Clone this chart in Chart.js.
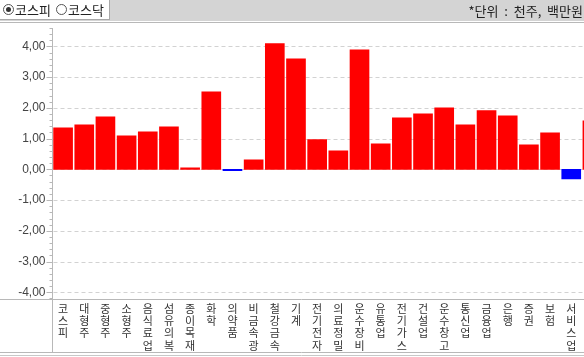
<!DOCTYPE html>
<html><head><meta charset="utf-8">
<script src="https://cdn.jsdelivr.net/npm/chart.js@4/dist/chart.umd.min.js"></script>
<style>
html,body{margin:0;padding:0;width:584px;height:357px;overflow:hidden;background:#fff;}
#top{position:absolute;left:0;top:0;width:584px;height:21px;background:#d4d4d4;}
#radio{position:absolute;left:0;top:0;width:109px;height:19px;background:#fff;border-right:1px solid #a8a8a8;border-bottom:1px solid #a8a8a8;font:13px "Noto Sans CJK KR";color:#222;}
.rb{position:absolute;top:4px;width:11px;height:11px;border:1px solid #555;border-radius:50%;box-sizing:border-box;background:#fff;}
.rb.on::after{content:"";position:absolute;left:2px;top:2px;width:5px;height:5px;border-radius:50%;background:#333;}
.rt{position:absolute;top:1px;line-height:17px;}
#unit{position:absolute;right:1px;top:2px;font:13px "Noto Sans CJK KR";color:#222;line-height:17px;white-space:pre;}
#sep{position:absolute;left:0;top:22px;width:584px;height:1px;background:#b8b8b8;}
#wrap{position:absolute;left:0;top:0;width:603px;height:357px;}
</style></head>
<body>
<div id="wrap"><canvas id="c" width="603" height="357"></canvas></div>
<div id="top">
  <div id="radio">
    <div class="rb on" style="left:3px"></div><div class="rt" style="left:15px">코스피</div>
    <div class="rb" style="left:56px"></div><div class="rt" style="left:68px">코스닥</div>
  </div>
  <div id="unit">*단위  :  천주,  백만원</div>
</div>
<div id="sep"></div>
<script>
const categories = ['코스피','대형주','중형주','소형주','음식료업','섬유의복','종이목재','화학','의약품','비금속광','철강금속','기계','전기전자','의료정밀','운수장비','유통업','전기가스','건설업','운수창고','통신업','금융업','은행','증권','보험','서비스업','제조업'];
const values = [1.35,1.45,1.71,1.09,1.22,1.38,0.05,2.52,-0.04,0.31,4.09,3.60,0.97,0.60,3.89,0.83,1.68,1.81,2.00,1.45,1.91,1.74,0.80,1.19,-0.31,1.58];
const yMin = -4.2, yMax = 4.6;
const yTickValues = [-4,-3,-2,-1,0,1,2,3,4];

const extras = {
  id:'extras',
  beforeDatasetsDraw(chart){
    const ctx = chart.ctx, y = chart.scales.y, a = chart.chartArea;
    ctx.save();
    ctx.strokeStyle = '#d2d2d2'; ctx.lineWidth = 1; ctx.setLineDash([4,3]);
    yTickValues.forEach(v=>{
      const py = Math.round(y.getPixelForValue(v)) + 0.5;
      ctx.beginPath(); ctx.moveTo(a.left+1, py); ctx.lineTo(chart.width, py); ctx.stroke();
    });
    ctx.restore();
  },
  afterDraw(chart){
    const ctx = chart.ctx, y = chart.scales.y, a = chart.chartArea;
    ctx.save();
    ctx.strokeStyle = '#b8b8b8'; ctx.lineWidth = 1;
    const ax = Math.floor(a.left) + 0.5;
    for (let i = Math.round(yMin*5); i <= Math.round(yMax*5); i++){
      const v = i/5, major = (i % 5 === 0);
      const py = Math.round(y.getPixelForValue(v)) + 0.5;
      ctx.beginPath(); ctx.moveTo(ax - (major?6:3), py); ctx.lineTo(ax, py); ctx.stroke();
    }
    ctx.beginPath(); ctx.moveTo(ax, a.bottom); ctx.lineTo(ax, 353); ctx.stroke();
    ctx.beginPath(); ctx.moveTo(0, 299.5); ctx.lineTo(chart.width, 299.5); ctx.stroke();
    ctx.beginPath(); ctx.moveTo(0, 352.5); ctx.lineTo(chart.width, 352.5); ctx.stroke();
    ctx.strokeStyle = '#c8c8c8';
    ctx.beginPath(); ctx.moveTo(0, 355.5); ctx.lineTo(chart.width, 355.5); ctx.stroke();
    ctx.restore();
  }
};

new Chart(document.getElementById('c'), {
  type:'bar',
  data:{
    labels: categories.map(s=>s.split('')),
    datasets:[{
      data: values,
      backgroundColor: values.map(v=> v>=0 ? '#ff0000' : '#0000ff'),
      barThickness: 19,
      borderWidth: 0
    }]
  },
  options:{
    responsive:false, animation:false,
    layout:{padding:{top:28, left:0, right:0, bottom:0}},
    plugins:{legend:{display:false}, tooltip:{enabled:false}},
    scales:{
      x:{
        offset:true,
        grid:{display:false, drawTicks:false},
        border:{display:false},
        ticks:{autoSkip:false, maxRotation:0, minRotation:0, padding:4, color:'#333',
          font:{family:'"Noto Sans CJK KR"', size:11, lineHeight:1.12}},
        afterFit(s){ s.height = 357 - 28 - 270.4; }
      },
      y:{
        min:yMin, max:yMax,
        afterBuildTicks(s){ s.ticks = yTickValues.map(v=>({value:v})); },
        grid:{display:false, drawTicks:false},
        border:{display:true, color:'#b8b8b8'},
        ticks:{padding:7, color:'#444', font:{family:'"Liberation Sans"', size:12},
          callback:v=> v.toFixed(2).replace('.', ',')},
        afterFit(s){ s.width = 52.5; }
      }
    }
  },
  plugins:[extras]
});
</script>
</body></html>
